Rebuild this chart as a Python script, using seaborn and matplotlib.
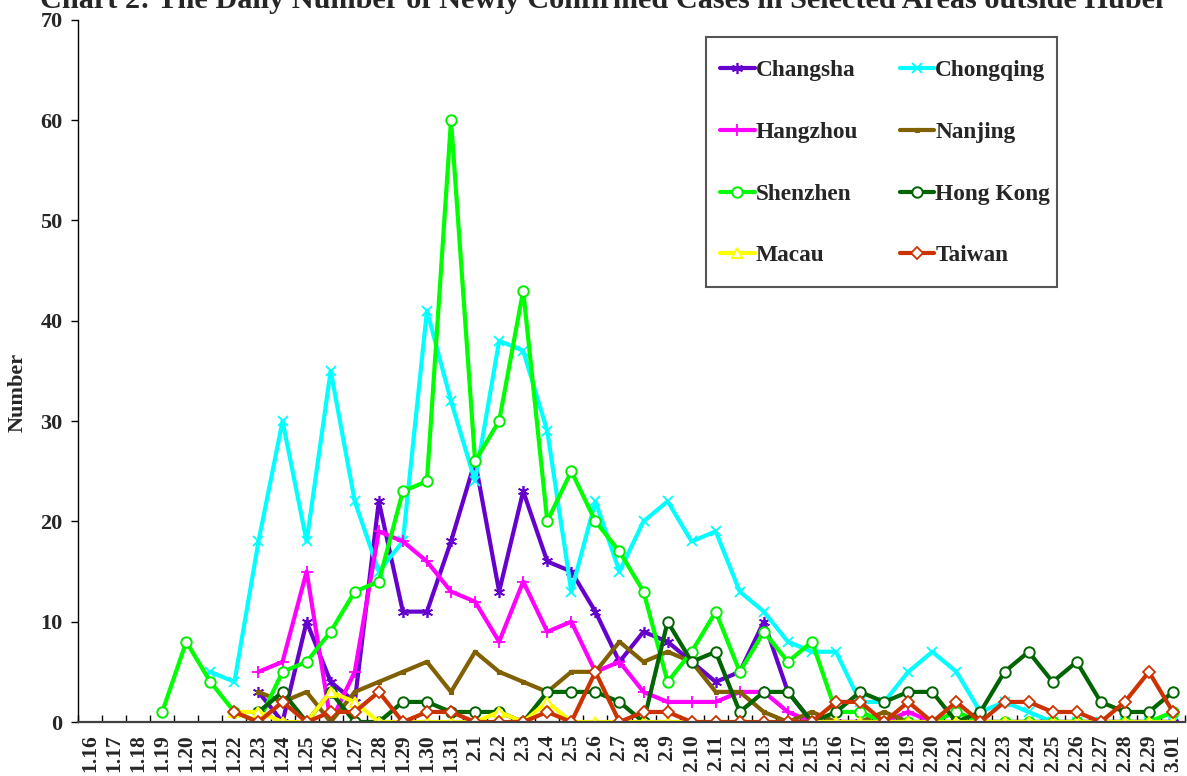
import numpy as np
import pandas as pd
import matplotlib
matplotlib.use('Agg')
import matplotlib.pyplot as plt
from matplotlib.patches import Rectangle
import seaborn as sns

sns.set_style('white')
plt.rcParams['font.family'] = ['Liberation Serif', 'DejaVu Serif']
plt.rcParams['font.weight'] = 'bold'

# dates on the category axis
dates = ['1.16', '1.17', '1.18', '1.19', '1.20', '1.21', '1.22', '1.23', '1.24', '1.25',
         '1.26', '1.27', '1.28', '1.29', '1.30', '1.31', '2.1', '2.2', '2.3', '2.4',
         '2.5', '2.6', '2.7', '2.8', '2.9', '2.10', '2.11', '2.12', '2.13', '2.14',
         '2.15', '2.16', '2.17', '2.18', '2.19', '2.20', '2.21', '2.22', '2.23', '2.24',
         '2.25', '2.26', '2.27', '2.28', '2.29', '3.01']

N = None
changsha = [N, N, N, N, N, N, N, 3, 0, 10, 4, 2, 22, 11, 11, 18, 26, 13, 23, 16,
            15, 11, 6, 9, 8, 6, 4, 5, 10, 3, 0, 0, 0, 0, 0, 0, 0, 0, 0, 0,
            0, 0, 0, 0, 0, 0]
chongqing = [N, N, N, N, N, 5, 4, 18, 30, 18, 35, 22, 15, 18, 41, 32, 24, 38, 37, 29,
             13, 22, 15, 20, 22, 18, 19, 13, 11, 8, 7, 7, 2, 2, 5, 7, 5, 1, 2, 1,
             0, 0, 0, 0, 0, 0]
hangzhou = [N, N, N, N, N, N, N, 5, 6, 15, 0, 5, 19, 18, 16, 13, 12, 8, 14, 9,
            10, 5, 6, 3, 2, 2, 2, 3, 3, 1, 0, 0, 0, 0, 1, 0, 0, 0, 0, 0,
            0, 0, 0, 0, 0, 0]
nanjing = [N, N, N, N, N, N, N, 3, 2, 3, 0, 3, 4, 5, 6, 3, 7, 5, 4, 3,
           5, 5, 8, 6, 7, 6, 3, 3, 1, 0, 1, 0, 0, 1, 0, 0, 0, 0, 0, 0,
           0, 0, 0, 0, 0, 0]
shenzhen = [N, N, N, 1, 8, 4, 1, 0, 5, 6, 9, 13, 14, 23, 24, 60, 26, 30, 43, 20,
            25, 20, 17, 13, 4, 7, 11, 5, 9, 6, 8, 1, 1, 0, 0, 0, 1, 0, 0, 0,
            0, 0, 0, 0, 0, 1]
hongkong = [N, N, N, N, N, N, N, 1, 3, 0, 3, 0, 0, 2, 2, 1, 1, 1, 0, 3,
            3, 3, 2, 0, 10, 6, 7, 1, 3, 3, 0, 1, 3, 2, 3, 3, 0, 1, 5, 7,
            4, 6, 2, 1, 1, 3]
macau = [N, N, N, N, N, N, 1, 1, 0, 0, 3, 2, 0, 0, 0, 0, 0, 1, 0, 2,
         0, 0, 0, 0, 0, 0, 0, 0, 0, 0, 0, 0, 0, 0, 0, 0, 0, 0, 0, 0,
         0, 0, 0, 0, 0, 0]
taiwan = [N, N, N, N, N, N, 1, 0, 2, 0, 1, 1, 3, 0, 1, 1, 0, 0, 0, 1,
          0, 5, 0, 1, 1, 0, 0, 0, 0, 0, 0, 2, 2, 0, 2, 0, 2, 0, 2, 2,
          1, 1, 0, 2, 5, 1]

series = [
    ('Changsha', changsha, '#6600CC', dict(marker=(6, 2, 0), markersize=8, markerfacecolor='#6600CC', markeredgecolor='#6600CC', markeredgewidth=1.2)),
    ('Chongqing', chongqing, '#00FFFF', dict(marker='x', markersize=7.5, markerfacecolor='#00FFFF', markeredgecolor='#00FFFF', markeredgewidth=1.3)),
    ('Hangzhou', hangzhou, '#FF00FF', dict(marker='+', markersize=9, markerfacecolor='#FF00FF', markeredgecolor='#FF00FF', markeredgewidth=1.3)),
    ('Nanjing', nanjing, '#806000', dict(marker='s', markersize=3, markerfacecolor='#806000', markeredgecolor='#806000', markeredgewidth=0.8)),
    ('Shenzhen', shenzhen, '#00FF00', dict(marker='o', markersize=7.5, markerfacecolor='white', markeredgecolor='#00EE00', markeredgewidth=1.4)),
    ('Hong Kong', hongkong, '#006400', dict(marker='o', markersize=7.5, markerfacecolor='white', markeredgecolor='#006400', markeredgewidth=1.4)),
    ('Macau', macau, '#FFFF00', dict(marker='^', markersize=7.5, markerfacecolor='white', markeredgecolor='#FFFF00', markeredgewidth=1.4)),
    ('Taiwan', taiwan, '#CC3300', dict(marker='D', markersize=6, markerfacecolor='white', markeredgecolor='#CC3300', markeredgewidth=1.3)),
]

W, H = 1187, 776
fig = plt.figure(figsize=(W / 100, H / 100), dpi=100)
ax = fig.add_axes([78 / W, 1 - 722 / H, 1107 / W, 702.3 / H])

pos = np.arange(len(dates))
for name, vals, col, mk in series:
    df = pd.DataFrame({'pos': pos, 'value': np.array(vals, dtype=float)})
    sns.lineplot(data=df, x='pos', y='value', color=col, linewidth=3, label=name, ax=ax, **mk)

ax.set_xlim(-0.5, len(dates) - 0.5)
ax.set_ylim(0, 70)
ax.set_yticks(range(0, 71, 10))
ax.set_xticks(pos)
ax.set_xticklabels(dates, rotation=90, fontsize=15.5, fontweight='bold')
ax.set_xticks(np.arange(-0.5, len(dates), 1), minor=True)
ax.tick_params(axis='x', which='major', length=0, pad=9)
ax.tick_params(axis='x', which='minor', direction='in', length=5, width=1, color='black', bottom=True)
ax.tick_params(axis='y', which='major', direction='out', length=5, width=1, color='black', left=True, pad=6, labelsize=16)
for lab in ax.get_yticklabels():
    lab.set_fontweight('bold')

ax.set_xlabel('')
ax.set_ylabel('')
for s in ['top', 'right']:
    ax.spines[s].set_visible(False)
ax.spines['left'].set_color('black')
ax.spines['left'].set_linewidth(1)
ax.spines['bottom'].set_color('#404040')
ax.spines['bottom'].set_linewidth(1.6)
ax.grid(False)

fig.text(18 / W, 1 - 392 / H, 'Number', rotation=90, ha='center', va='center',
         fontsize=16, fontweight='bold')
# title sits partly above the top edge, as in the original
fig.text(0.507, 1 - 8 / H, 'Chart 2: The Daily Number of Newly Confirmed Cases in Selected Areas outside Hubei',
         ha='center', va='baseline', fontsize=21.8, fontweight='bold')

# legend box drawn separately so its padding can match
box = Rectangle((706 / W, 1 - 287 / H), 351 / W, 250 / H, transform=fig.transFigure,
                facecolor='white', edgecolor='#555555', linewidth=1.5, zorder=4, clip_on=False)
ax.add_patch(box)

# legend: row-wise order in two columns
handles, labels = ax.get_legend_handles_labels()
order = [0, 2, 4, 6, 1, 3, 5, 7]
leg = ax.legend([handles[i] for i in order], [labels[i] for i in order], ncol=2,
                loc='upper left', bbox_to_anchor=((713 - 78) / 1107, 1 - (53 - 19.7) / 702.3),
                borderaxespad=0, frameon=False,
                prop={'size': 16.8, 'weight': 'bold'}, handlelength=1.48, handletextpad=0.05,
                columnspacing=1.78, labelspacing=1.73, borderpad=0.3)
leg.set_zorder(5)

plt.savefig('out.png', dpi=100)
